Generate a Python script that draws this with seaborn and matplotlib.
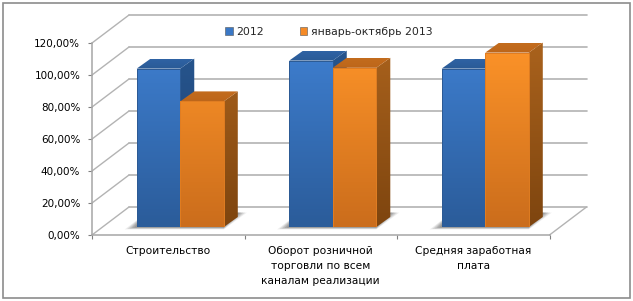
import numpy as np
import pandas as pd
import matplotlib
matplotlib.use("Agg")
import matplotlib.pyplot as plt
from matplotlib.colors import LinearSegmentedColormap
from matplotlib.patches import Polygon, Rectangle
import seaborn as sns

categories = ["Строительство", "Оборот розничной\nторговли по всем\nканалам реализации", "Средняя заработная\nплата"]
series_names = ["2012", "январь-октябрь 2013"]
values_2012 = [99, 104, 99]
values_2013 = [78.5, 99.5, 109]
y_ticks = [0, 20, 40, 60, 80, 100, 120]
y_tick_labels = ["0,00%", "20,00%", "40,00%", "60,00%", "80,00%", "100,00%", "120,00%"]

W, H = 633, 301
PX_X = 152.5   # px in one category band
PX_Y = 1.6     # px in one percent

sns.set_style("white")
plt.rcParams["font.family"] = ["DejaVu Sans"]
plt.rcParams["font.size"] = 7.5

df = pd.DataFrame({
    "category": categories * 2,
    "series": [series_names[0]] * 3 + [series_names[1]] * 3,
    "value": values_2012 + values_2013,
})

fig = plt.figure(figsize=(W / 100, H / 100), dpi=100, facecolor="white")
fig.add_artist(Rectangle((2.5 / W, 3 / H), 627.5 / W, 295 / H, transform=fig.transFigure,
                         fill=False, edgecolor="#8c8c8c", linewidth=1.2))


def ax_box(left, bottom_y):
    return [left / W, (H - bottom_y) / H, 3 * PX_X / W, 120 * PX_Y / H]


# walls and floor
ax = fig.add_axes(ax_box(92, 235))
ax.set_xlim(-0.5, 2.5)
ax.set_ylim(0, 120)
ax.patch.set_alpha(0)
sns.despine(ax=ax)
for s in ["left", "bottom"]:
    ax.spines[s].set_color("#a6a6a6")
    ax.spines[s].set_linewidth(1.1)
ax.set_yticks(y_ticks, y_tick_labels)
ax.set_xticks(range(3), categories, linespacing=1.6)
ax.set_xticks([-0.5, 0.5, 1.5, 2.5], minor=True)
ax.tick_params(axis="y", left=True, length=3, width=0.8, color="#808080", pad=5.5, labelcolor="black", labelsize=7.5)
ax.tick_params(axis="x", which="major", length=0, pad=8.2, labelcolor="black", labelsize=7.7)
ax.tick_params(axis="x", which="minor", bottom=True, length=3, width=0.8, color="#808080")
for lab in ax.get_xticklabels():
    lab.set_verticalalignment("top")

wall_dx, wall_dy = 37 / PX_X, 28 / PX_Y
for t in y_ticks:
    ax.plot([-0.5 + wall_dx, 2.5 + wall_dx], [t + wall_dy] * 2, color="#b3b3b3", lw=1.2, clip_on=False, zorder=1)
    ax.plot([-0.5, -0.5 + wall_dx], [t, t + wall_dy], color="#b3b3b3", lw=1.0, clip_on=False, zorder=1)
ax.plot([2.5, 2.5 + wall_dx], [0, wall_dy], color="#b3b3b3", lw=1.0, clip_on=False, zorder=1)

# bars sit a bit further in than the front edge of the floor
bx = fig.add_axes(ax_box(104, 227))
bx.patch.set_alpha(0)
sns.barplot(data=df, x="category", y="value", hue="series", hue_order=series_names,
            palette=["#3a78c6", "#f58a26"], width=0.571, gap=0, ax=bx, zorder=3)
bx.set_xlim(-0.5, 2.5)
bx.set_ylim(0, 120)
bx.set_axis_off()

front_cols = [("#3f80d2", "#2b5c9a"), ("#ff9529", "#cb6d1c")]
side_cols = [("#27568f", "#1e4272"), ("#ab631d", "#7e450f")]
top_cols = [("#2f63a4", "#2a5a96"), ("#c36c1d", "#bd661a")]
edge_cols = ["#2c5a94", "#e07d22"]


def grad_fill(patch, c1, c2, y0, y1, z):
    # vertical gradient, clipped to the patch
    cmap = LinearSegmentedColormap.from_list("g", [c1, c2])
    g = np.linspace(0, 1, 64).reshape(-1, 1)
    im = bx.imshow(g, cmap=cmap, aspect="auto", origin="upper", extent=[-1, 4, y0, y1], zorder=z)
    patch.set_transform(bx.transData)
    patch.set_facecolor("none")
    patch.set_edgecolor("none")
    bx.add_patch(patch)
    patch.set_zorder(z)
    im.set_clip_path(patch)


depth_x, depth_y = 14 / PX_X, 10 / PX_Y
for j in range(3):
    # floor shadow of the whole group, soft edge from stacked layers
    left = bx.containers[0][j].get_x()
    right = bx.containers[1][j].get_x() + bx.containers[1][j].get_width()
    for grow, alpha in [(1.0, 0.12), (0.8, 0.18), (0.6, 0.22), (0.4, 0.28), (0.2, 0.3)]:
        pts = [(left - 12 * grow / PX_X, -1.5 * grow), (right, -1.5 * grow),
               (right + (14 + 9 * grow) / PX_X, 9.0), (left + 10 / PX_X, 9.0)]
        bx.add_patch(Polygon(pts, closed=True, facecolor="#6e6e6e", edgecolor="none",
                             alpha=alpha, zorder=1, clip_on=False))
    for i, cont in enumerate(bx.containers):
        bar = cont[j]
        x0, w, h = bar.get_x(), bar.get_width(), bar.get_height()
        x1 = x0 + w
        z = 3 + 2 * i
        side = Polygon([(x1, 0), (x1 + depth_x, depth_y), (x1 + depth_x, h + depth_y), (x1, h)], closed=True)
        grad_fill(side, side_cols[i][0], side_cols[i][1], 0, 120, z)
        top = Polygon([(x0, h), (x0 + depth_x, h + depth_y), (x1 + depth_x, h + depth_y), (x1, h)], closed=True)
        grad_fill(top, top_cols[i][0], top_cols[i][1], h, h + depth_y, z)
        front = Polygon([(x0, 0), (x0, h), (x1, h), (x1, 0)], closed=True)
        grad_fill(front, front_cols[i][0], front_cols[i][1], 0, 120, z + 1)
        bar.set_alpha(0)
        bx.add_patch(Rectangle((x0, 0), w, h, fill=False, edgecolor=edge_cols[i], lw=0.7, zorder=z + 1.5))
bx.set_xlim(-0.5, 2.5)
bx.set_ylim(0, 120)

handles, labels = bx.get_legend_handles_labels()
for hd, c in zip(handles, ["#3a78c6", "#f58a26"]):
    hd.set_alpha(1)
    hd.set_facecolor(c)
    hd.set_edgecolor("#555555")
    hd.set_linewidth(0.4)
bx.legend(handles, labels, ncol=2, frameon=False, loc="center left", bbox_to_anchor=(225 / W, (H - 32) / H),
          bbox_transform=fig.transFigure, handlelength=0.7, handleheight=0.8, handletextpad=0.35,
          columnspacing=3.3, fontsize=7.8, borderpad=0, borderaxespad=0)

fig.savefig("out.png", dpi=100, facecolor="white")
